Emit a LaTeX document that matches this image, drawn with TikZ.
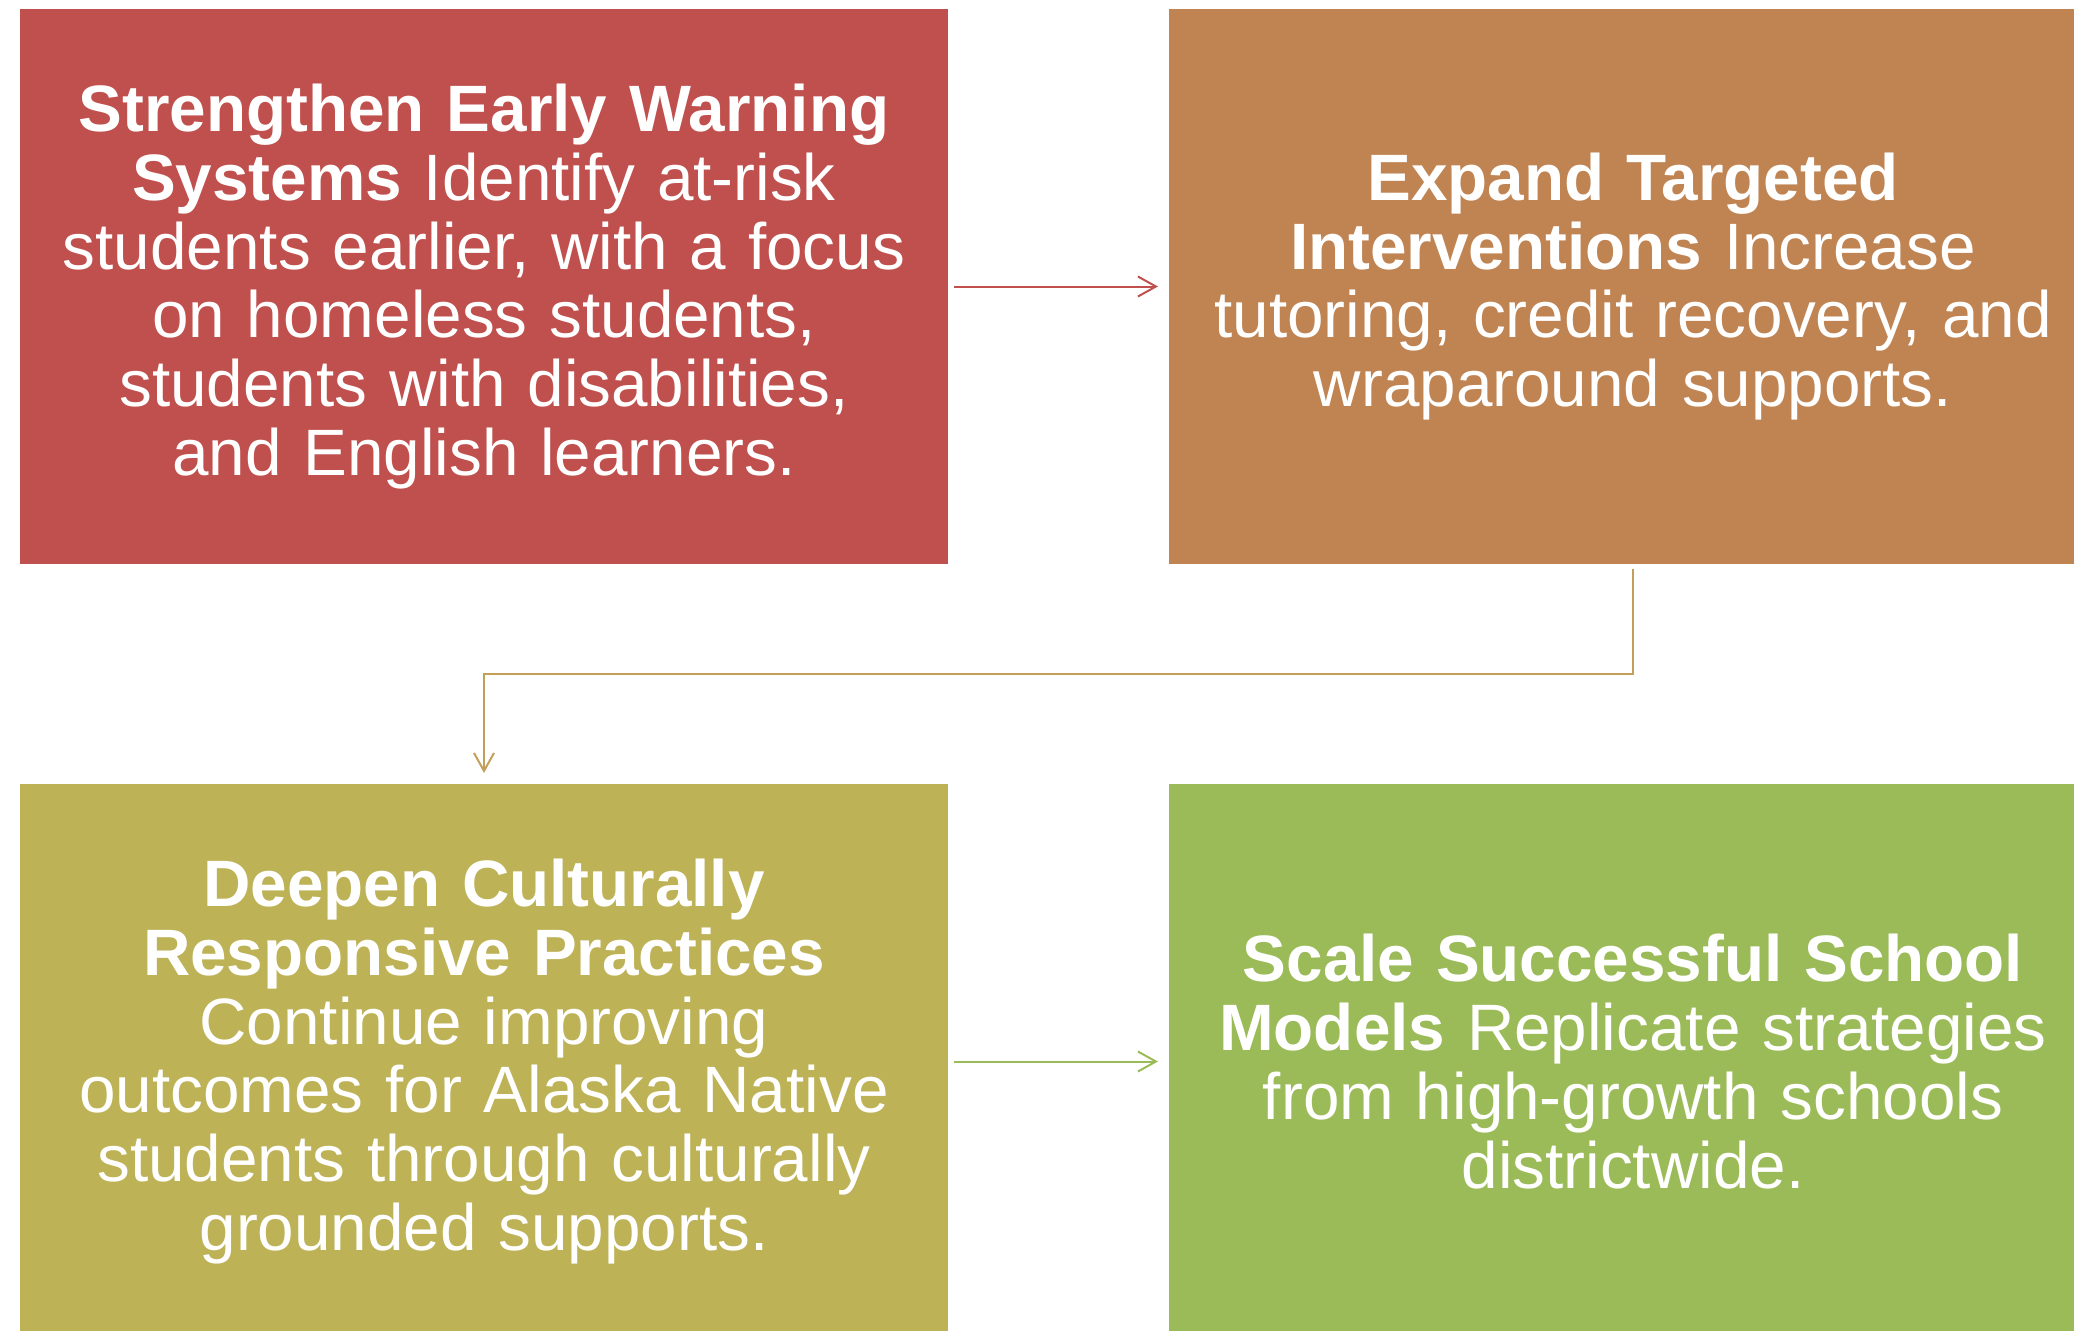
\documentclass[tikz,border=0pt]{standalone}
\usepackage{fontspec}
\setmainfont{Liberation Sans}
\usetikzlibrary{arrows.meta}
\definecolor{cred}{RGB}{192,80,77}
\definecolor{corange}{RGB}{192,131,82}
\definecolor{colive}{RGB}{190,178,87}
\definecolor{cgreen}{RGB}{155,187,89}
\definecolor{ctan}{RGB}{194,160,90}
\tikzset{
  stepbox/.style={rectangle, draw=none, minimum width=464pt, minimum height=277.5pt,
    inner sep=0pt, outer sep=0pt, text=white, align=center, text width=450pt,
    font=\fontsize{32.8pt}{34.4pt}\selectfont},
  link/.style={line width=1pt, -{Straight Barb[length=9pt,width=10pt,line width=1pt]}}
}
\begin{document}
\begin{tikzpicture}[x=0.5pt,y=-0.5pt]
\useasboundingbox (0,0) rectangle (2074,1330);
\clip (0,0) rectangle (2074,1330);
\node[stepbox, fill=cred] (b1) at (484,286.5)
  {\textbf{Strengthen Early Warning}\\\textbf{Systems} Identify at-risk\\students earlier, with a focus\\on homeless students,\\students with disabilities,\\and English learners.};
\node[stepbox, fill=corange] (b2) at (1633,286.5)
  {\textbf{Expand Targeted}\\\textbf{Interventions} Increase\\tutoring, credit recovery, and\\wraparound supports.};
\node[stepbox, fill=colive] (b3) at (484,1061.5)
  {\textbf{Deepen Culturally}\\\textbf{Responsive Practices}\\Continue improving\\outcomes for Alaska Native\\students through culturally\\grounded supports.};
\node[stepbox, fill=cgreen] (b4) at (1633,1061.5)
  {\textbf{Scale Successful School}\\\textbf{Models} Replicate strategies\\from high-growth schools\\districtwide.};
\draw[link, draw=cred, shorten <=6pt/2, shorten >=11pt/2] (b1.east) -- (b2.west);
\coordinate (elbow) at (1633,674);
\draw[link, draw=ctan, shorten <=5pt/2, shorten >=11pt/2] (b2.south) -- (elbow) -| (b3.north);
\draw[link, draw=cgreen, shorten <=6pt/2, shorten >=11pt/2] (b3.east) -- (b4.west);
\end{tikzpicture}
\end{document}
